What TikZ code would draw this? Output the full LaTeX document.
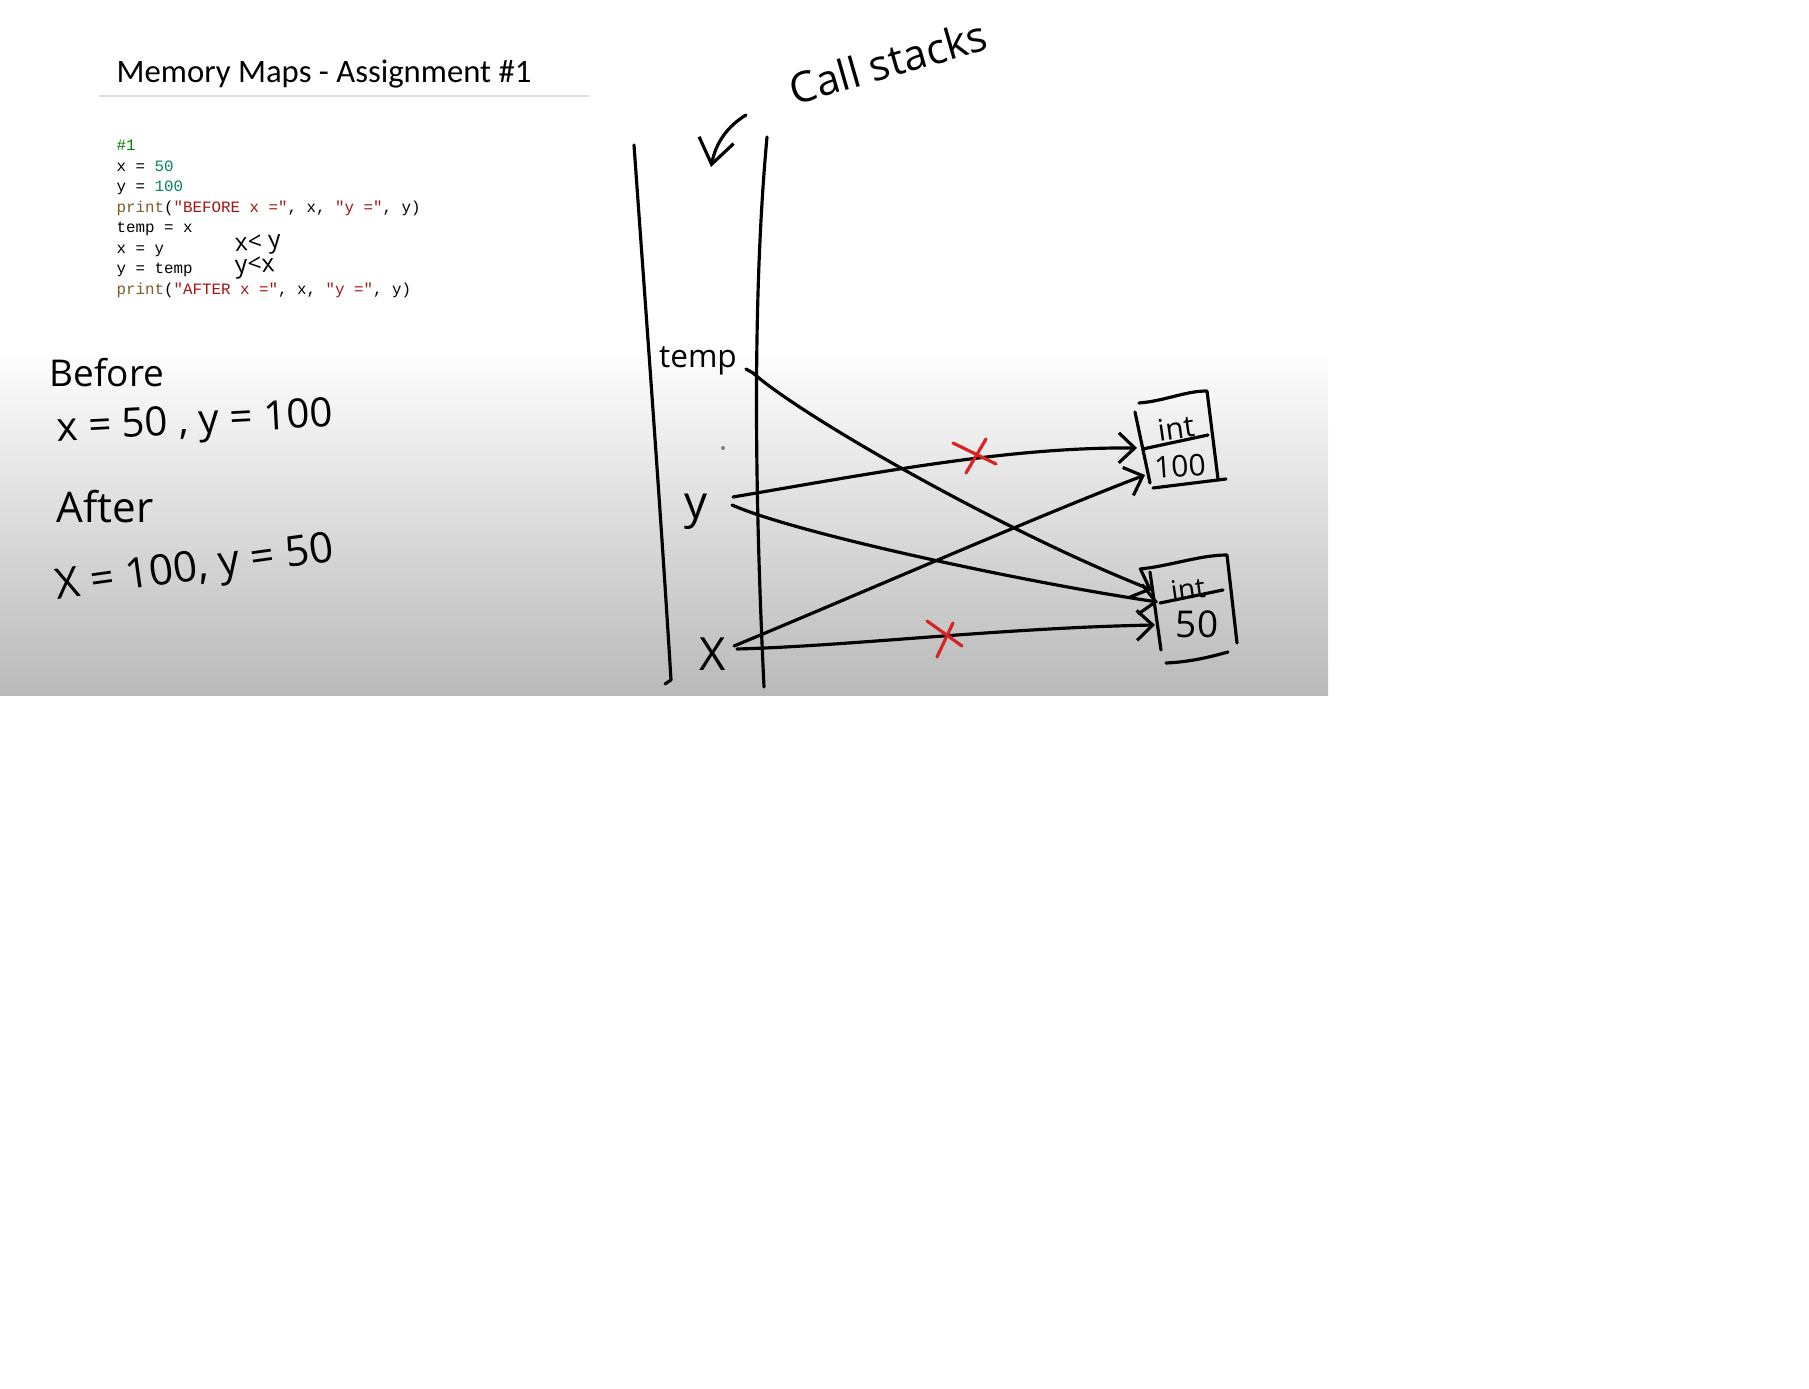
\documentclass[tikz,border=0pt]{standalone}
\usepackage{fontspec}
\setmainfont{Carlito}
\newfontfamily\handfont{Open Sans}
\newfontfamily\codefont{Liberation Mono}
\usetikzlibrary{arrows.meta}

\definecolor{codegreen}{RGB}{0,128,0}
\definecolor{codenum}{RGB}{9,134,88}
\definecolor{codefn}{RGB}{121,94,38}
\definecolor{codestr}{RGB}{163,21,21}
\definecolor{xred}{RGB}{214,35,35}
\definecolor{slidegray}{RGB}{185,185,185}

\newcommand{\hw}[1]{\handfont\fontsize{#1}{#1}\selectfont}

\begin{document}
\begin{tikzpicture}[
    x=0.01cm, y=-0.01cm,
    pen/.style={
        line width=0.9pt,
        line cap=round,
        line join=round
    },
    ptr/.style={
        pen,
        -{Straight Barb[length=4.5pt, width=8.5pt]}
    },
    cross/.style={
        draw=xred,
        line width=0.9pt,
        line cap=round
    },
    hand/.style={
        inner sep=0pt
    },
    code/.style={
        anchor=base west,
        inner sep=0pt,
        font=\codefont\fontsize{4.5}{5.8}\selectfont
    }
]

    % Page and slide
    \useasboundingbox (0,0) rectangle (1809,1389);
    \fill[white] (0,0) rectangle (1809,1389);
    \shade[top color=white, bottom color=slidegray] (0,346) rectangle (1328,696);

    % Title
    \node[anchor=base west, inner sep=0pt, font=\fontsize{9.3}{11}\selectfont] (title) at (116,83) {Memory Maps - Assignment \#1};
    \draw[gray!25, line width=0.6pt] (99,96) -- (590,96);

    % Code
    \node[code] (l1) at (116,151) {\color{codegreen}\#1};
    \node[code] (l2) at (116,171.5) {x = \textcolor{codenum}{50}};
    \node[code] (l3) at (116,192) {y = \textcolor{codenum}{100}};
    \node[code] (l4) at (116,212.5) {\textcolor{codefn}{print}(\textcolor{codestr}{"BEFORE x ="}, x, \textcolor{codestr}{"y ="}, y)};
    \node[code] (l5) at (116,233) {temp = x};
    \node[code] (l6) at (116,253.5) {x = y};
    \node[code] (l7) at (116,274) {y = temp};
    \node[code] (l8) at (116,294.5) {\textcolor{codefn}{print}(\textcolor{codestr}{"AFTER x ="}, x, \textcolor{codestr}{"y ="}, y)};

    % Swap note
    \node[hand, font=\hw{7}, rotate=4] (note1) at (258,245) {x< y};
    \node[hand, font=\hw{7}, rotate=4] (note2) at (255,268) {y<x};

    % Before / after
    \node[hand, font=\hw{10.5}] (before) at (107,373) {Before};
    \node[hand, font=\hw{11.5}, rotate=3] (bvals) at (195,424) {x = 50 , y = 100};
    \node[hand, font=\hw{12}] (after) at (105,507) {After};
    \node[hand, font=\hw{12}, rotate=8] (avals) at (195,570) {X = 100, y = 50};

    % Call stack frame
    \node[hand, font=\hw{12}, rotate=16] (callstacks) at (888,62) {Call stacks};
    \draw[pen, -{Straight Barb[length=7pt, width=10pt]}] (746,115) .. controls (728,126) and (716,142) .. (711,167);
    \draw[pen] (634,145) .. controls (645,300) and (660,500) .. (671,680) -- (665,684);
    \draw[pen] (767,137) .. controls (752,300) and (755,500) .. (764,687);
    \fill[gray] (723,448) circle (2);

    % Variables
    \node[hand, font=\hw{9}] (temp) at (698,361) {temp};
    \node[hand, font=\hw{13}] (vary) at (696,512) {y};
    \node[hand, font=\hw{13}] (varx) at (713,654) {X};

    % Objects
    \draw[pen] (1139,403) .. controls (1165,401) and (1185,391) .. (1207,391) -- (1218,479);
    \draw[pen] (1135,412) -- (1150,483);
    \draw[pen] (1143,449) -- (1208,435);
    \draw[pen] (1153,488) -- (1226,479);
    \node[hand, font=\hw{8.5}, rotate=8] (int100) at (1176,428) {int};
    \node[hand, font=\hw{8.5}, rotate=4] (val100) at (1180,466) {100};

    \draw[pen] (1140,569) .. controls (1170,566) and (1200,555) .. (1227,555) -- (1237,643);
    \draw[pen] (1150,572) -- (1161,650);
    \draw[pen] (1160,603) -- (1223,590);
    \draw[pen] (1166,663) .. controls (1190,662) and (1210,657) .. (1228,652);
    \node[hand, font=\hw{8}, rotate=8] (int50) at (1188,589) {int};
    \node[hand, font=\hw{10.5}] (val50) at (1197,624) {50};

    % Pointer ends
    \coordinate (ts) at (746,369);
    \coordinate (ys1) at (733,497);
    \coordinate (ys2) at (732,505);
    \coordinate (xs1) at (734,646);
    \coordinate (xs2) at (737,649);
    \coordinate (b100a) at (1137,448);
    \coordinate (b100b) at (1145,475);
    \coordinate (b50a) at (1152,590);
    \coordinate (b50b) at (1158,602);
    \coordinate (b50c) at (1155,625);

    % Pointers
    \draw[ptr] (ys1) .. controls (880,472) and (1010,447) .. (b100a);
    \draw[ptr] (xs1) .. controls (850,598) and (1040,515) .. (b100b);
    \draw[ptr] (ts) -- (753,373) .. controls (800,415) and (1000,530) .. (b50a);
    \draw[ptr] (ys2) .. controls (800,535) and (1040,585) .. (b50b);
    \draw[ptr] (xs2) .. controls (850,646) and (1000,628) .. (b50c);

    % Crossed out
    \draw[cross] (953,443) -- (996,464);
    \draw[cross] (986,439) -- (966,473);
    \draw[cross] (927,621) -- (962,646);
    \draw[cross] (953,623) -- (937,657);

\end{tikzpicture}
\end{document}
